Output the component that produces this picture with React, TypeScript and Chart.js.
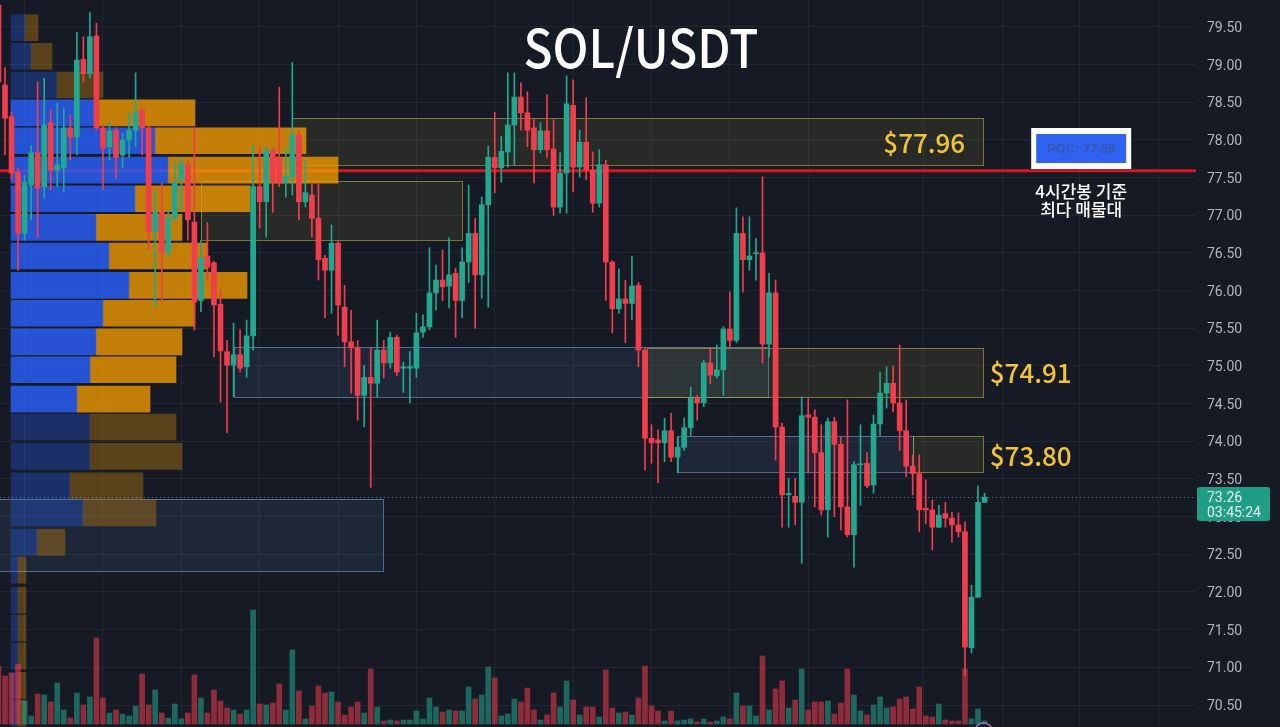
import React, { useEffect, useRef } from 'react';
import { Chart, registerables } from 'chart.js';

Chart.register(...registerables);

// ---------------- DATA ----------------
const candleOpen = [
  79.79, 78.73, 78.31, 77.57, 76.76, 77.40, 77.83, 77.38, 78.23, 77.60,
  77.63, 78.16, 78.04, 79.07, 78.88, 79.38, 78.16, 77.91, 78.13, 77.80,
  78.00, 78.13, 78.40, 78.16, 76.78, 77.04, 76.51, 76.96, 77.47, 77.67,
  76.91, 75.87, 76.46, 76.37, 75.82, 75.19, 75.01, 75.15, 74.99, 75.40,
  77.38, 77.18, 77.87, 77.76, 77.43, 77.51, 78.07, 77.18, 77.27, 76.96,
  76.43, 76.27, 76.63, 75.78, 75.32, 75.24, 74.61, 74.85, 74.77, 75.21,
  75.04, 75.38, 74.97, 74.97, 74.97, 75.45, 75.52, 75.97, 76.14, 76.06,
  76.23, 75.87, 76.38, 76.76, 76.21, 77.14, 77.77, 77.63, 77.84, 78.20,
  78.57, 78.36, 78.16, 77.87, 78.12, 77.88, 77.11, 77.56, 78.46, 77.64,
  77.97, 77.60, 77.16, 77.67, 76.38, 75.76, 75.89, 75.83, 76.07, 75.21,
  74.04, 74.02, 73.98, 74.14, 73.79, 73.92, 74.18, 74.57, 74.51, 75.04,
  74.87, 74.95, 75.49, 75.34, 76.76, 76.41, 76.49, 76.50, 75.29, 75.97,
  74.19, 73.29, 73.27, 73.19, 74.35, 74.32, 73.85, 73.09, 74.26, 73.96,
  73.13, 72.76, 73.69, 73.71, 73.42, 74.23, 74.64, 74.77, 74.51, 74.14,
  73.67, 73.57, 73.11, 73.09, 72.86, 73.04, 72.98, 72.89, 72.80, 71.26,
  71.93, 73.19,
];
const candleHigh = [
  79.86, 78.96, 78.37, 77.63, 77.53, 77.93, 78.77, 78.82, 78.40, 78.49,
  78.42, 78.33, 79.43, 79.37, 79.69, 79.55, 78.20, 78.24, 78.16, 78.09,
  78.36, 78.89, 78.42, 78.18, 77.34, 77.43, 77.07, 77.71, 77.77, 77.73,
  78.16, 76.67, 76.90, 76.39, 76.01, 75.34, 75.57, 75.48, 75.61, 77.93,
  77.91, 77.91, 77.89, 78.70, 77.89, 79.03, 78.13, 77.73, 77.44, 77.43,
  76.47, 76.87, 76.65, 76.07, 75.74, 75.34, 75.01, 75.24, 75.61, 75.34,
  75.45, 75.41, 75.05, 75.19, 75.70, 75.68, 76.57, 76.34, 76.54, 76.70,
  76.30, 76.57, 77.40, 76.96, 77.24, 77.92, 78.37, 78.05, 78.89, 78.89,
  78.76, 78.64, 78.27, 78.23, 78.60, 78.27, 77.83, 78.85, 78.80, 78.13,
  78.56, 77.84, 77.87, 77.73, 76.40, 76.29, 76.14, 76.46, 76.11, 75.25,
  74.22, 74.15, 74.31, 74.37, 74.06, 74.31, 74.72, 74.61, 75.08, 75.24,
  75.28, 75.52, 75.98, 77.10, 76.98, 76.98, 76.69, 77.51, 76.23, 76.14,
  74.24, 73.51, 73.51, 74.59, 74.57, 74.42, 74.22, 74.31, 74.32, 74.06,
  74.55, 73.73, 74.22, 73.85, 74.35, 74.92, 74.99, 75.00, 75.28, 74.55,
  73.82, 73.82, 73.49, 73.22, 73.15, 73.19, 73.06, 73.05, 72.93, 72.09,
  73.41, 73.31,
];
const candleLow = [
  78.66, 77.80, 77.47, 76.27, 76.67, 76.94, 76.71, 77.23, 77.34, 77.38,
  77.31, 77.73, 77.80, 78.77, 78.82, 78.13, 77.34, 77.73, 77.49, 77.63,
  77.77, 77.91, 77.80, 76.54, 75.78, 75.87, 76.45, 76.94, 77.07, 76.67,
  75.48, 75.72, 76.14, 75.12, 74.52, 74.11, 74.59, 74.92, 74.85, 75.21,
  76.83, 76.71, 77.04, 77.38, 77.24, 77.27, 76.94, 77.11, 76.71, 76.14,
  75.64, 75.70, 75.41, 74.99, 74.64, 74.28, 74.19, 73.39, 74.59, 74.84,
  74.97, 74.87, 74.65, 74.51, 74.85, 75.38, 75.48, 75.74, 75.87, 75.77,
  75.38, 75.64, 76.11, 75.50, 75.90, 75.78, 77.30, 77.44, 77.64, 77.67,
  78.13, 77.91, 77.43, 77.83, 77.77, 77.00, 77.03, 77.03, 77.31, 77.51,
  77.47, 77.04, 77.11, 75.87, 75.44, 75.70, 75.31, 75.61, 74.99, 73.62,
  73.71, 73.45, 73.73, 73.73, 73.58, 73.88, 74.08, 74.28, 74.46, 74.77,
  74.84, 74.61, 75.25, 75.31, 75.98, 76.27, 76.14, 75.04, 75.12, 73.75,
  72.86, 72.86, 72.89, 72.38, 73.58, 73.13, 73.02, 72.73, 73.00, 72.82,
  72.73, 72.33, 73.15, 73.38, 73.31, 74.08, 74.44, 74.39, 73.88, 73.53,
  73.29, 72.80, 72.91, 72.56, 72.85, 72.86, 72.66, 72.73, 70.89, 71.19,
  71.93, 73.19,
];
const candleClose = [
  78.77, 78.29, 77.56, 76.76, 77.44, 77.83, 77.36, 78.20, 77.60, 77.67,
  78.16, 78.04, 79.06, 78.88, 79.37, 78.16, 77.89, 78.12, 77.77, 78.00,
  78.13, 78.37, 78.16, 76.78, 77.04, 76.51, 76.96, 77.44, 77.69, 76.94,
  75.85, 76.43, 76.31, 75.81, 75.20, 75.01, 75.15, 74.97, 75.40, 77.38,
  77.18, 77.87, 77.44, 77.43, 77.52, 78.07, 77.18, 77.30, 76.96, 76.41,
  76.27, 76.63, 75.81, 75.32, 75.24, 74.61, 74.85, 74.77, 75.21, 75.04,
  75.38, 74.92, 74.99, 74.99, 75.44, 75.52, 75.97, 76.14, 76.05, 76.21,
  75.87, 76.38, 76.76, 76.21, 77.14, 77.77, 77.63, 77.85, 78.20, 78.57,
  78.36, 78.13, 77.87, 78.12, 77.87, 77.11, 77.56, 78.48, 77.64, 77.97,
  77.60, 77.16, 77.67, 76.38, 75.76, 75.89, 75.83, 76.06, 75.21, 74.04,
  73.98, 73.98, 74.14, 73.79, 73.92, 74.18, 74.57, 74.51, 75.04, 74.88,
  74.95, 75.49, 75.34, 76.76, 76.41, 76.46, 76.50, 75.29, 75.97, 74.19,
  73.29, 73.31, 73.19, 74.34, 74.32, 73.85, 73.09, 74.26, 73.96, 73.13,
  72.76, 73.69, 73.70, 73.41, 74.23, 74.64, 74.77, 74.51, 74.14, 73.67,
  73.57, 73.09, 73.09, 72.86, 73.02, 72.98, 72.89, 72.80, 71.27, 71.93,
  73.19, 73.26,
];
const volumes = [
  58, 48, 51, 60, 23, 8, 30, 29, 22, 41,
  14, 6, 31, 19, 27, 86, 26, 11, 14, 10,
  8, 18, 50, 19, 34, 11, 6, 20, 5, 11,
  49, 26, 11, 34, 23, 16, 14, 10, 14, 114,
  20, 19, 21, 40, 14, 74, 33, 5, 18, 38,
  31, 32, 22, 9, 17, 22, 11, 55, 17, 3,
  4, 3, 4, 4, 13, 5, 26, 17, 12, 14,
  13, 13, 37, 25, 29, 57, 46, 8, 10, 25,
  22, 36, 14, 4, 9, 31, 17, 43, 24, 9,
  17, 17, 7, 54, 16, 11, 12, 9, 26, 58,
  18, 13, 3, 13, 3, 4, 5, 2, 5, 2,
  3, 7, 5, 31, 18, 18, 8, 68, 14, 35,
  43, 16, 24, 55, 14, 22, 22, 23, 10, 21,
  55, 29, 13, 9, 19, 27, 16, 17, 25, 27,
  15, 37, 8, 7, 20, 4, 3, 3, 55, 5,
  15, 3,
];

const priceTicks = [79.5, 79.0, 78.5, 78.0, 77.5, 77.0, 76.5, 76.0, 75.5, 75.0, 74.5, 74.0, 73.5, 73.0, 72.5, 72.0, 71.5, 71.0, 70.5];
const timeGridTicks = [4, 16, 28, 40, 52, 64, 76, 88, 100, 112, 124, 141.6, 153.7, 165.6, 177.6];

// volume profile rows (row mid price, buy volume, sell volume)
const profileRowPrice = [79.49, 79.11, 78.73, 78.36, 77.99, 77.60, 77.22, 76.84, 76.46, 76.07, 75.70, 75.32, 74.95, 74.56, 74.19, 73.80, 73.41, 73.05, 72.66, 72.29, 71.89, 71.52, 71.15, 70.76, 70.39];
const profileBuyVol = [14, 20, 46, 87, 144, 157, 124, 85, 98, 118, 92, 85, 79, 66, 79, 79, 59, 72, 26, 7, 7, 7, 7, 7, 7];
const profileSellVol = [13, 21, 46, 97, 151, 170, 115, 86, 98, 118, 92, 86, 86, 73, 86, 92, 73, 73, 28, 8, 8, 8, 8, 8, 8];
const valueAreaFirstRow = 3;
const valueAreaLastRow = 13;

// zones
const zoneKind = ['supply', 'supply', 'demand', 'supply', 'demand', 'supply', 'demand'];
const zoneStartIdx = [45, 31, 36, 99.3, 104, 140, -0.3];
const zoneEndIdx = [150.8, 71, 117.8, 150.8, 140, 150.8, 58.9];
const zoneTopPrice = [78.29, 77.46, 75.25, 75.24, 74.07, 74.07, 73.24];
const zoneBottomPrice = [77.67, 76.67, 74.59, 74.59, 73.59, 73.59, 72.28];

const zoneLabelText = ['$77.96', '$74.91', '$73.80'];
const zoneLabelPrice = [77.96, 74.91, 73.80];
const zoneLabelIdx = [135.5, 151.8, 151.8];

const pocPrice = 77.59;
const pocLabel = 'POC: 77.59';
const pocNote = ['4시간봉 기준', '최다 매물대'];
const lastPrice = 73.26;
const countdown = '03:45:24';
const title = 'SOL/USDT';
const markerIdx = 151;

// ---------------- STYLE ----------------
const BG = '#161a25';
const GREEN = '#22a88e';
const RED = '#f23d4c';
const VOL_GREEN = 'rgba(34,168,142,0.55)';
const VOL_RED = 'rgba(242,61,76,0.55)';
const GRID = 'rgba(255,255,255,0.055)';
const AXIS_TEXT = '#b2b5be';

const overlayPlugin = {
  id: 'overlays',
  beforeDatasetsDraw(chart: any) {
    const { ctx, chartArea: a, scales } = chart;
    const xs = scales.x;
    const ys = scales.y;
    ctx.save();
    ctx.beginPath();
    ctx.rect(a.left, a.top, a.right - a.left, a.bottom - a.top);
    ctx.clip();
    zoneKind.forEach((k, z) => {
      const x1 = Math.round(xs.getPixelForValue(zoneStartIdx[z]));
      const x2 = Math.round(xs.getPixelForValue(zoneEndIdx[z]));
      const y1 = Math.round(ys.getPixelForValue(zoneTopPrice[z]));
      const y2 = Math.round(ys.getPixelForValue(zoneBottomPrice[z]));
      ctx.fillStyle = k === 'supply' ? 'rgba(150,140,60,0.14)' : 'rgba(80,120,180,0.14)';
      ctx.fillRect(x1, y1, x2 - x1, y2 - y1);
      ctx.strokeStyle = k === 'supply' ? 'rgba(195,175,70,0.6)' : 'rgba(120,160,210,0.6)';
      ctx.lineWidth = 1;
      ctx.strokeRect(x1 + 0.5, y1 + 0.5, x2 - x1, y2 - y1);
    });
    const py = ys.getPixelForValue(pocPrice);
    ctx.strokeStyle = '#d3171d';
    ctx.lineWidth = 3;
    ctx.beginPath();
    ctx.moveTo(a.left, py);
    ctx.lineTo(a.right, py);
    ctx.stroke();
    const ly = Math.round(ys.getPixelForValue(lastPrice)) + 0.5;
    ctx.setLineDash([1, 3]);
    ctx.strokeStyle = 'rgba(120,165,185,0.75)';
    ctx.lineWidth = 1;
    ctx.beginPath();
    ctx.moveTo(a.left, ly);
    ctx.lineTo(a.right, ly);
    ctx.stroke();
    ctx.restore();
  },
  afterDraw(chart: any) {
    const { ctx, chartArea: a, scales } = chart;
    const xs = scales.x;
    const ys = scales.y;
    ctx.save();
    // price axis labels (positions from the price scale)
    ctx.font = '14px Roboto, "Liberation Sans", sans-serif';
    ctx.fillStyle = AXIS_TEXT;
    ctx.textAlign = 'left';
    ctx.textBaseline = 'middle';
    ys.ticks.forEach((t: any) => {
      ctx.fillText(Number(t.value).toFixed(2), a.right + 11, ys.getPixelForValue(t.value) + 1.5);
    });
    // zone labels
    ctx.font = '500 26px "Noto Sans CJK KR", "Noto Sans", sans-serif';
    ctx.fillStyle = '#f4c430';
    ctx.textBaseline = 'middle';
    ctx.textAlign = 'left';
    zoneLabelText.forEach((t, k) => {
      ctx.fillText(t, xs.getPixelForValue(zoneLabelIdx[k]), ys.getPixelForValue(zoneLabelPrice[k]));
    });
    // title
    ctx.save();
    ctx.translate(641, 68);
    ctx.scale(0.9, 1);
    ctx.font = '500 53px "Noto Sans CJK KR", "Noto Sans", sans-serif';
    ctx.fillStyle = '#ffffff';
    ctx.textAlign = 'center';
    ctx.textBaseline = 'alphabetic';
    ctx.fillText(title, 0, 0);
    ctx.restore();
    // POC box
    const py = ys.getPixelForValue(pocPrice);
    const cx = xs.getPixelForValue(165.8);
    const yb = Math.round(py) - 2;
    ctx.fillStyle = '#ffffff';
    ctx.fillRect(cx - 50, yb - 41, 100, 41);
    ctx.fillStyle = '#2f62f0';
    ctx.fillRect(cx - 45, yb - 35, 90, 29);
    ctx.font = 'bold 13px "Liberation Sans", Arial, sans-serif';
    ctx.fillStyle = '#3a55b0';
    ctx.textAlign = 'center';
    ctx.textBaseline = 'middle';
    ctx.fillText(pocLabel, cx, yb - 20);
    ctx.font = '500 17px "Noto Sans CJK KR", sans-serif';
    ctx.fillStyle = '#ffffff';
    ctx.fillText(pocNote[0], cx, py + 21);
    ctx.fillText(pocNote[1], cx, py + 39);
    // last price tag
    const ly = Math.round(ys.getPixelForValue(lastPrice));
    ctx.fillStyle = '#1f9e85';
    const tx = a.right + 1;
    const ty = ly - 10;
    const tw = 73;
    const th = 34;
    const r = 3;
    ctx.beginPath();
    ctx.moveTo(tx + r, ty);
    ctx.lineTo(tx + tw - r, ty);
    ctx.quadraticCurveTo(tx + tw, ty, tx + tw, ty + r);
    ctx.lineTo(tx + tw, ty + th - r);
    ctx.quadraticCurveTo(tx + tw, ty + th, tx + tw - r, ty + th);
    ctx.lineTo(tx + r, ty + th);
    ctx.quadraticCurveTo(tx, ty + th, tx, ty + th - r);
    ctx.lineTo(tx, ty + r);
    ctx.quadraticCurveTo(tx, ty, tx + r, ty);
    ctx.fill();
    ctx.fillStyle = '#e6f6f1';
    ctx.font = '14px Roboto, "Liberation Sans", sans-serif';
    ctx.textAlign = 'left';
    ctx.fillText(lastPrice.toFixed(2), a.right + 11, ly + 1);
    ctx.fillText(countdown, a.right + 11, ly + 16);
    // small marker circle at the bottom
    ctx.strokeStyle = 'rgba(190,110,210,0.9)';
    ctx.lineWidth = 1.5;
    ctx.beginPath();
    ctx.arc(xs.getPixelForValue(markerIdx) - 1, a.bottom + 5, 9, 0, Math.PI * 2);
    ctx.stroke();
    ctx.restore();
  },
};

export default function App() {
  const ref = useRef<HTMLCanvasElement | null>(null);
  useEffect(() => {
    if (!ref.current) return;
    const idx = candleOpen.map((_, i) => i);
    const up = idx.map((i) => candleClose[i] >= candleOpen[i]);
    const inVA = (k: number) => k >= valueAreaFirstRow && k <= valueAreaLastRow;
    const chart = new Chart(ref.current, {
      type: 'bar',
      data: {
        datasets: [
          {
            label: 'body',
            data: idx.map((i) => ({ x: i, y: [candleOpen[i], candleClose[i]] })) as any,
            backgroundColor: up.map((u) => (u ? GREEN : RED)),
            barThickness: 5,
            minBarLength: 1,
            grouped: false,
            order: 0,
            xAxisID: 'x',
            yAxisID: 'y',
          } as any,
          {
            label: 'wick',
            data: idx.map((i) => ({ x: i, y: [candleLow[i], candleHigh[i]] })) as any,
            backgroundColor: up.map((u) => (u ? GREEN : RED)),
            barThickness: 1,
            grouped: false,
            order: 1,
            xAxisID: 'x',
            yAxisID: 'y',
          } as any,
          {
            label: 'volume',
            data: idx.map((i) => ({ x: i, y: volumes[i] })) as any,
            backgroundColor: up.map((u) => (u ? VOL_GREEN : VOL_RED)),
            barThickness: 5,
            grouped: false,
            order: 3,
            xAxisID: 'x',
            yAxisID: 'yv',
          } as any,
          {
            label: 'profileBuy',
            indexAxis: 'y',
            data: profileRowPrice.map((p, k) => ({ x: [0, profileBuyVol[k]], y: p })) as any,
            backgroundColor: profileRowPrice.map((_, k) => (inVA(k) ? 'rgba(41,98,255,0.8)' : 'rgba(41,98,255,0.3)')),
            barThickness: 26,
            grouped: false,
            order: 4,
            xAxisID: 'xp',
            yAxisID: 'y',
          } as any,
          {
            label: 'profileSell',
            indexAxis: 'y',
            data: profileRowPrice.map((p, k) => ({ x: [profileBuyVol[k], profileBuyVol[k] + profileSellVol[k]], y: p })) as any,
            backgroundColor: profileRowPrice.map((_, k) => (inVA(k) ? 'rgba(245,155,0,0.78)' : 'rgba(245,155,0,0.3)')),
            barThickness: 26,
            grouped: false,
            order: 4,
            xAxisID: 'xp',
            yAxisID: 'y',
          } as any,
        ],
      },
      options: {
        responsive: false,
        animation: false,
        events: [],
        layout: { padding: 0 },
        plugins: { legend: { display: false }, tooltip: { enabled: false }, title: { display: false } },
        scales: {
          x: {
            type: 'linear',
            min: 0.234,
            max: 183.38,
            offset: false,
            grid: { color: GRID, drawTicks: false, offset: false },
            border: { display: false },
            ticks: { display: false },
            afterBuildTicks: (s: any) => {
              s.ticks = timeGridTicks.map((v) => ({ value: v }));
            },
            afterFit: (s: any) => {
              s.height = 0;
            },
          },
          y: {
            type: 'linear',
            position: 'right',
            min: 70.208,
            max: 79.858,
            offset: false,
            grid: { color: GRID, drawTicks: false, offset: false },
            border: { display: false },
            ticks: { display: false },
            afterBuildTicks: (s: any) => {
              s.ticks = priceTicks.map((v) => ({ value: v }));
            },
            afterFit: (s: any) => {
              s.width = 84;
              s.paddingTop = 0;
              s.paddingBottom = 0;
            },
          },
          yv: { type: 'linear', axis: 'y', display: false, offset: false, min: -3, max: 724, grid: { display: false } },
          xp: { type: 'linear', axis: 'x', position: 'bottom', display: false, min: -11, max: 1185, offset: false, grid: { display: false } },
        } as any,
      },
      plugins: [overlayPlugin],
    });
    return () => chart.destroy();
  }, []);

  return (
    <div style={{ position: 'fixed', left: 0, top: 0, width: 1280, height: 727, background: BG, overflow: 'hidden' }}>
      <canvas ref={ref} width={1280} height={727} style={{ display: 'block', width: 1280, height: 727 }} />
    </div>
  );
}
